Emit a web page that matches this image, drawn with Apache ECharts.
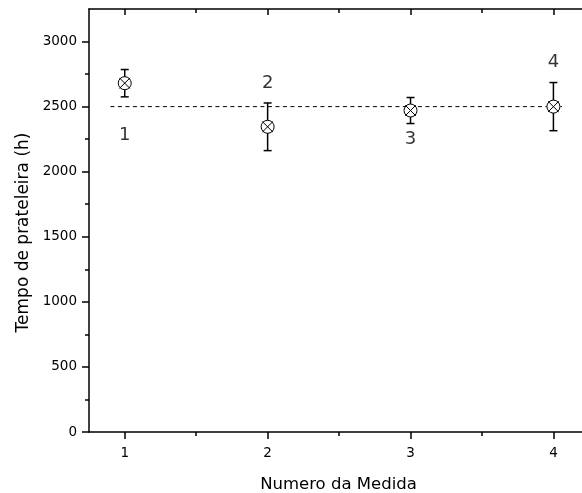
<!DOCTYPE html>
<html>
<head>
<meta charset="utf-8">
<title>Tempo de prateleira</title>
<script src="https://cdn.jsdelivr.net/npm/echarts@6/dist/echarts.min.js"></script>
</head>
<body style="margin:0">
<div id="main" style="width:582px;height:493px"></div>
<script>
// dados
var medidas = [1, 2, 3, 4];
var tempo = [2680, 2345, 2470, 2500];
var erro = [105, 183, 100, 185];
var rotulos = ['1', '2', '3', '4'];
var referencia = 2500;
var referenciaX = [0.9, 4.06];
var xTicks = [1, 2, 3, 4];
var xMinor = [1.5, 2.5, 3.5];
var yTicks = [0, 500, 1000, 1500, 2000, 2500, 3000];
var yMinor = [250, 750, 1250, 1750, 2250, 2750];

// deslocamento vertical (px) dos rotulos dos pontos
var labelShift = [52, -43, 29, -44];

var fonte = 'DejaVu Sans';
var preto = '#000';

var barras = medidas.map(function (m, i) {
    return [m, tempo[i] - erro[i], tempo[i] + erro[i], tempo[i]];
});

var pontosRotulo = medidas.map(function (m, i) {
    return {
        value: [m, tempo[i]],
        label: { offset: [0, labelShift[i]] }
    };
});

function semVirgula(v) { return String(v); }

// o grafico original esta cortado a direita: o eixo x termina em ~4.2 na borda
function eixoX(pos, ticks, len, inside, showLine, extra) {
    var ax = {
        type: 'value', gridIndex: 0, position: pos,
        min: 0.75, max: 4.2,
        axisLine: { show: showLine, onZero: false, lineStyle: { color: preto, width: 1.5 } },
        axisTick: { show: true, inside: inside, length: len, customValues: ticks,
                    lineStyle: { color: preto, width: 1.5 } },
        axisLabel: { show: false },
        splitLine: { show: false }
    };
    return Object.assign(ax, extra || {});
}

var myChart = echarts.init(document.getElementById('main'));
myChart.setOption({
    animation: false,
    backgroundColor: '#fff',
    grid: { left: 89, top: 9, right: 0, height: 423, outerBoundsMode: 'none' },
    xAxis: [
        eixoX('bottom', xTicks, 7, false, true, {
            axisLabel: { show: true, customValues: xTicks, margin: 14, formatter: semVirgula,
                         color: preto, fontFamily: fonte, fontSize: 13.5 },
            name: 'Numero da Medida', nameLocation: 'middle', nameGap: 44,
            nameTextStyle: { color: preto, fontFamily: fonte, fontSize: 16.5, padding: [0, 0, 0, 6] }
        }),
        eixoX('bottom', xMinor, 4, false, false),
        eixoX('top', xTicks, 6, true, true),
        eixoX('top', xMinor, 4, true, false)
    ],
    yAxis: [
        {
            type: 'value', position: 'left', min: 0, max: 3250,
            axisLine: { show: true, onZero: false, lineStyle: { color: preto, width: 1.5 } },
            axisTick: { show: true, length: 7, customValues: yTicks, lineStyle: { color: preto, width: 1.5 } },
            axisLabel: { customValues: yTicks, margin: 12, formatter: semVirgula,
                         color: preto, fontFamily: fonte, fontSize: 13.5 },
            splitLine: { show: false },
            name: 'Tempo de prateleira (h)', nameLocation: 'middle', nameGap: 52,
            nameTextStyle: { color: preto, fontFamily: fonte, fontSize: 17, padding: [0, 24, 0, 0] }
        },
        {
            type: 'value', position: 'left', min: 0, max: 3250,
            axisLine: { show: false },
            axisTick: { show: true, length: 4, customValues: yMinor, lineStyle: { color: preto, width: 1.5 } },
            axisLabel: { show: false },
            splitLine: { show: false }
        }
    ],
    series: [
        {
            // linha de referencia tracejada
            type: 'line',
            symbol: 'none',
            silent: true,
            data: [[referenciaX[0], referencia], [referenciaX[1], referencia]],
            lineStyle: { color: preto, width: 1, type: [4, 3.5] },
            z: 1
        },
        {
            // barras de erro + marcador circulo com X
            type: 'custom',
            data: barras,
            encode: { x: 0, y: [1, 2, 3] },
            renderItem: function (params, api) {
                var x = api.value(0);
                var topo = api.coord([x, api.value(2)]);
                var base = api.coord([x, api.value(1)]);
                var c = api.coord([x, api.value(3)]);
                var w = 4, r = 6.5, k = 5.3;
                var st = { stroke: preto, lineWidth: 1.5 };
                var fino = { stroke: preto, lineWidth: 1 };
                return {
                    type: 'group',
                    children: [
                        { type: 'line', shape: { x1: topo[0], y1: topo[1], x2: base[0], y2: base[1] }, style: st },
                        { type: 'line', shape: { x1: topo[0] - w, y1: topo[1], x2: topo[0] + w, y2: topo[1] }, style: st },
                        { type: 'line', shape: { x1: base[0] - w, y1: base[1], x2: base[0] + w, y2: base[1] }, style: st },
                        { type: 'circle', shape: { cx: c[0], cy: c[1], r: r }, style: { fill: '#fff', stroke: preto, lineWidth: 1 } },
                        { type: 'line', shape: { x1: c[0] - k, y1: c[1] - k, x2: c[0] + k, y2: c[1] + k }, style: fino },
                        { type: 'line', shape: { x1: c[0] + k, y1: c[1] - k, x2: c[0] - k, y2: c[1] + k }, style: fino }
                    ]
                };
            },
            z: 3
        },
        {
            // rotulos numericos dos pontos
            type: 'scatter',
            symbolSize: 0,
            data: pontosRotulo,
            label: {
                show: true, position: 'inside',
                formatter: function (p) { return rotulos[p.dataIndex]; },
                color: preto, fontFamily: fonte, fontSize: 18
            },
            z: 4
        }
    ]
});
</script>
</body>
</html>
